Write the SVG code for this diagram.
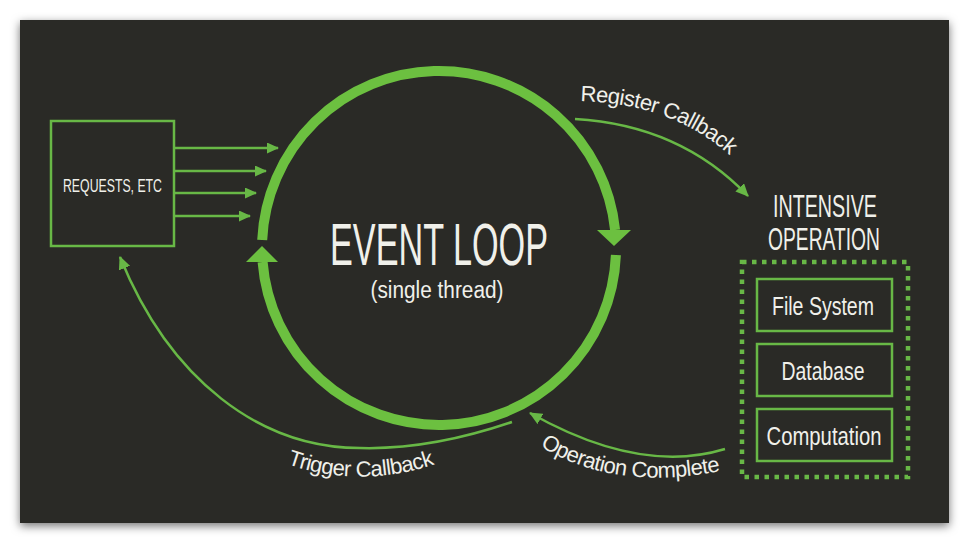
<svg xmlns="http://www.w3.org/2000/svg" width="969" height="544" viewBox="0 0 969 544">
<defs>
<filter id="sh" x="-5%" y="-5%" width="110%" height="115%">
<feDropShadow dx="0" dy="3" stdDeviation="5" flood-color="#000" flood-opacity="0.55"/>
</filter>
<marker id="ah" markerUnits="userSpaceOnUse" markerWidth="14" markerHeight="12" refX="12" refY="6" orient="auto" viewBox="0 0 14 12">
<path d="M0,0 L13,6 L0,12 z" fill="#68b846"/>
</marker>
<marker id="ah2" markerUnits="userSpaceOnUse" markerWidth="12" markerHeight="11" refX="11" refY="5.5" orient="auto" viewBox="0 0 12 11">
<path d="M0,0 L12,5.5 L0,11 z" fill="#68b846"/>
</marker>
<path id="tpReg" d="M580,101 Q690,104 752,178"/>
<path id="tpOp" d="M540,446 Q617,494 730,469"/>
<path id="tpTrig" d="M287,464 Q367,492 452,458"/>
</defs>
<style>
.t{font-family:"Liberation Sans",sans-serif;fill:#f0f0ea;}
.lab{font-family:"Liberation Sans",sans-serif;fill:#f0f0ea;font-size:22px;letter-spacing:-0.6px;}
.box{fill:none;stroke:#68b846;stroke-width:2.5;}
.thin{fill:none;stroke:#68b846;stroke-width:2.5;}
.loop{fill:none;stroke:#6cc040;stroke-width:10;}
.head{fill:#6cc040;}
</style>
<rect x="0" y="0" width="969" height="544" fill="#ffffff"/>
<rect x="20" y="20" width="929" height="503" fill="#2b2a25" filter="url(#sh)"/>

<g id="requests">
<rect class="box" x="51" y="121" width="123" height="125"/>
<text class="t" x="63" y="192" font-size="19" textLength="99" lengthAdjust="spacingAndGlyphs">REQUESTS, ETC</text>
</g>

<g id="event-loop">
<path class="loop" d="M262.2,240 A177,177 0 0 1 615.1,230"/>
<polygon class="head" points="597,230 631,230 614,246"/>
<path class="loop" d="M615.9,255 A177,177 0 0 1 262.6,262"/>
<polygon class="head" points="246,262 278,262 262,246"/>
<text class="t" x="439" y="265" font-size="60" text-anchor="middle" textLength="218" lengthAdjust="spacingAndGlyphs">EVENT LOOP</text>
<text class="t" x="437" y="298" font-size="23" text-anchor="middle" textLength="133" lengthAdjust="spacingAndGlyphs">(single thread)</text>
</g>

<g id="intensive-operation">
<text class="t" x="825" y="217" font-size="31" text-anchor="middle" textLength="104" lengthAdjust="spacingAndGlyphs">INTENSIVE</text>
<text class="t" x="824" y="250" font-size="31" text-anchor="middle" textLength="112" lengthAdjust="spacingAndGlyphs">OPERATION</text>
<rect x="742" y="262" width="166" height="215" fill="none" stroke="#68b846" stroke-width="4.5" stroke-dasharray="4.5 5.5"/>
</g>

<g id="file-system">
<rect class="box" x="757" y="279" width="135" height="52"/>
<text class="t" x="823" y="315" font-size="25" text-anchor="middle" textLength="102" lengthAdjust="spacingAndGlyphs">File System</text>
</g>
<g id="database">
<rect class="box" x="757" y="344" width="135" height="52"/>
<text class="t" x="823" y="380" font-size="25" text-anchor="middle" textLength="83" lengthAdjust="spacingAndGlyphs">Database</text>
</g>
<g id="computation">
<rect class="box" x="757" y="409" width="135" height="52"/>
<text class="t" x="824" y="445" font-size="25" text-anchor="middle" textLength="115" lengthAdjust="spacingAndGlyphs">Computation</text>
</g>

<g id="connectors">
<line class="thin" x1="174" y1="148" x2="278" y2="148" marker-end="url(#ah2)"/>
<line class="thin" x1="174" y1="171" x2="266" y2="171" marker-end="url(#ah2)"/>
<line class="thin" x1="174" y1="193" x2="256" y2="193" marker-end="url(#ah2)"/>
<line class="thin" x1="174" y1="216" x2="250" y2="216" marker-end="url(#ah2)"/>
<path class="thin" d="M575,119 Q680,125 748,196" marker-end="url(#ah)"/>
<path class="thin" d="M725,449 Q640,475 530,413" marker-end="url(#ah)"/>
<path class="thin" d="M512,422 Q430,450 360,448 C260,448 170,380 120,257" marker-end="url(#ah)"/>
</g>

<g id="labels">
<text class="lab"><textPath href="#tpReg">Register Callback</textPath></text>
<text class="lab"><textPath href="#tpOp">Operation Complete</textPath></text>
<text class="lab"><textPath href="#tpTrig">Trigger Callback</textPath></text>
</g>
</svg>
